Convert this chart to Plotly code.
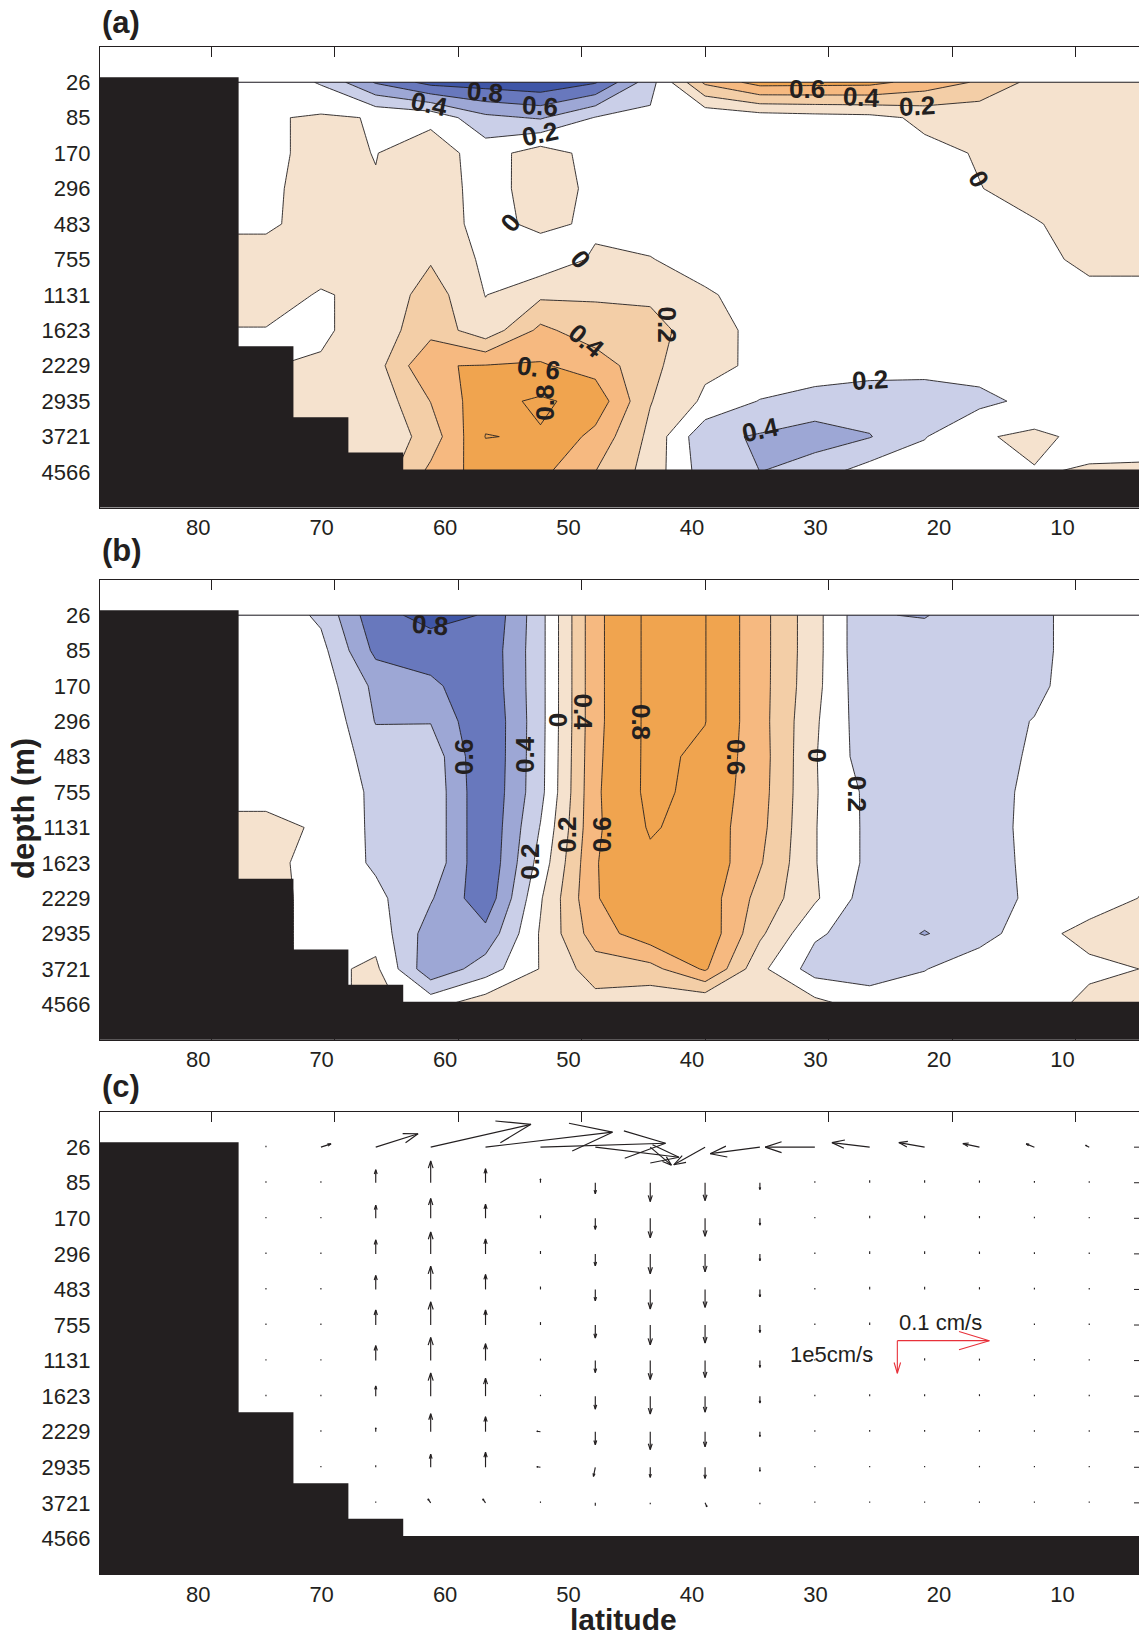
import math
import plotly.graph_objects as go

# ---------------- data ----------------
lat_deg = [88.89, 84.44, 80.00, 75.56, 71.11, 66.67, 62.22, 57.78, 53.33, 48.89,
           44.44, 40.00, 35.56, 31.11, 26.67, 22.22, 17.78, 13.33, 8.89, 4.44]
depth_m = ["26", "85", "170", "296", "483", "755", "1131", "1623", "2229", "2935", "3721", "4566"]
lat_ticks = [80, 70, 60, 50, 40, 30, 20, 10]
# top of the land/bottom mask per column (in level-index units)
land_top = [-0.14, -0.14, -0.14, 7.45, 9.45, 10.45, 10.93, 10.93, 10.93, 10.93,
            10.93, 10.93, 10.93, 10.93, 10.93, 10.93, 10.93, 10.93, 10.93, 10.93]

# panel (a) field, rows = levels 26..4566 m, columns = lat_deg
field_a = [
    [-0.05, -0.05, -0.05, -0.05, -0.22, -0.62, -0.87, -0.90, -0.95, -0.82, -0.28, 0.44, 0.68, 0.67, 0.66, 0.52, 0.374, 0.136, 0.10, 0.10],
    [-0.02, -0.02, -0.02, -0.02, 0.025, -0.01, -0.05, -0.35, -0.42, -0.19, -0.157, -0.175, -0.11, -0.08, -0.06, 0.04, 0.05, 0.08, 0.10, 0.10],
    [-0.04, -0.04, -0.04, -0.04, 0.05, -0.005, 0.10, -0.09, 0.10, -0.075, -0.10, -0.10, -0.10, -0.10, -0.08, -0.045, 0.012, 0.05, 0.08, 0.08],
    [-0.03, -0.03, -0.03, -0.03, 0.06, 0.01, 0.11, -0.08, 0.09, -0.04, -0.08, -0.10, -0.12, -0.12, -0.10, -0.08, -0.004, 0.05, 0.07, 0.07],
    [-0.02, -0.02, -0.02, -0.02, 0.05, 0.05, 0.11, -0.07, 0.05, -0.038, -0.05, -0.08, -0.10, -0.12, -0.10, -0.10, -0.06, -0.01, 0.05, 0.06],
    [0.05, 0.05, 0.05, 0.05, 0.05, 0.05, 0.18, -0.04, -0.14, 0.03, 0.005, -0.05, -0.08, -0.10, -0.10, -0.10, -0.08, -0.03, 0.025, 0.025],
    [0.05, 0.05, 0.05, 0.05, -0.01, 0.03, 0.30, -0.005, 0.16, 0.18, 0.15, 0.015, -0.047, -0.10, -0.10, -0.10, -0.10, -0.06, -0.028, -0.028],
    [-0.005, -0.005, -0.005, -0.005, -0.03, 0.09, 0.33, 0.07, 0.45, 0.28, 0.30, 0.05, -0.033, -0.10, -0.10, -0.12, -0.10, -0.07, -0.05, -0.05],
    [-0.005, -0.005, -0.005, -0.005, 0.02, 0.12, 0.59, 0.61, 0.62, 0.52, 0.25, 0.04, -0.027, -0.10, -0.128, -0.149, -0.125, -0.08, -0.06, -0.06],
    [-0.005, -0.005, -0.005, -0.005, 0.05, 0.06, 0.405, 0.74, 0.83, 0.73, 0.21, -0.035, -0.21, -0.27, -0.30, -0.28, -0.25, -0.15, -0.07, -0.06],
    [-0.005, -0.005, -0.005, -0.005, 0.05, 0.03, 0.29, 0.805, 0.785, 0.54, 0.15, -0.35, -0.42, -0.50, -0.41, -0.21, -0.02, 0.04, -0.05, -0.05],
    [-0.005, -0.005, -0.005, -0.005, 0.05, 0.05, 0.45, 0.70, 0.65, 0.40, 0.12, -0.30, -0.40, -0.28, -0.11, -0.10, -0.05, -0.01, 0.015, 0.02],
]

# panel (b) field
field_b = [
    [-0.05, -0.05, -0.05, -0.05, -0.24, -0.745, -0.855, -0.79, -0.27, 0.55, 0.85, 0.805, 0.48, 0.07, -0.39, -0.41, -0.30, -0.28, -0.05, -0.05],
    [-0.05, -0.05, -0.05, -0.05, -0.135, -0.65, -0.71, -0.75, -0.27, 0.55, 0.85, 0.805, 0.48, 0.07, -0.39, -0.30, -0.30, -0.28, -0.05, -0.05],
    [-0.04, -0.04, -0.04, -0.04, -0.09, -0.45, -0.553, -0.76, -0.27, 0.55, 0.85, 0.805, 0.48, 0.06, -0.37, -0.30, -0.30, -0.26, -0.05, -0.05],
    [-0.03, -0.03, -0.03, -0.03, -0.02, -0.41, -0.41, -0.79, -0.27, 0.55, 0.85, 0.805, 0.48, 0.03, -0.34, -0.30, -0.30, -0.19, -0.06, -0.05],
    [-0.03, -0.03, -0.03, -0.03, -0.03, -0.30, -0.27, -0.79, -0.265, 0.56, 0.85, 0.76, 0.49, 0.015, -0.32, -0.30, -0.30, -0.17, -0.07, -0.05],
    [-0.06, -0.06, -0.06, -0.06, -0.02, -0.25, -0.25, -0.78, -0.26, 0.57, 0.85, 0.74, 0.48, 0.016, -0.25, -0.30, -0.30, -0.144, -0.07, -0.05],
    [0.05, 0.05, 0.05, 0.05, -0.022, -0.245, -0.25, -0.78, -0.19, 0.567, 0.82, 0.72, 0.46, 0.01, -0.246, -0.30, -0.30, -0.136, -0.07, -0.05],
    [0.05, 0.05, 0.05, 0.05, -0.064, -0.23, -0.25, -0.78, -0.12, 0.59, 0.76, 0.75, 0.42, 0.01, -0.246, -0.30, -0.30, -0.146, -0.075, -0.03],
    [0.05, 0.05, 0.05, 0.05, -0.05, -0.15, -0.38, -0.74, -0.02, 0.585, 0.78, 0.715, 0.33, 0.03, -0.31, -0.30, -0.30, -0.157, -0.075, 0.01],
    [0.05, 0.05, 0.05, 0.05, -0.05, -0.074, -0.50, -0.54, 0.02, 0.50, 0.727, 0.75, 0.24, -0.17, -0.30, -0.41, -0.30, -0.05, 0.05, 0.10],
    [0.05, 0.05, 0.05, 0.05, -0.05, 0.04, -0.55, -0.30, 0.01, 0.30, 0.33, 0.63, 0.05, -0.29, -0.30, -0.21, -0.05, -0.05, -0.036, 0.004],
    [0.05, 0.05, 0.05, 0.05, -0.05, 0.04, -0.064, 0.12, 0.10, 0.12, 0.05, -0.01, 0.10, 0.07, -0.09, -0.05, -0.05, -0.085, 0.048, 0.06],
]

# panel (c) velocities: v = horizontal (cm/s, positive = rightward on the plot), w = vertical (1e-5 cm/s, positive up)
N = None
v_cms = [
    [N, N, N, 0.000, 0.011, 0.046, 0.109, 0.138, 0.136, 0.091, 0.023, -0.034, -0.054, -0.054, -0.041, -0.028, -0.018, -0.009, -0.004, -0.005],
    [N, N, N, 0, 0, 0, 0, 0, 0, 0, 0, 0, 0, 0, 0, 0, 0, 0, 0, 0],
    [N, N, N, 0, 0, 0, 0, 0, 0, 0, 0, 0, 0, 0, 0, 0, 0, 0, 0, 0],
    [N, N, N, 0, 0, 0, 0, 0, 0, 0, 0, 0, 0, 0, 0, 0, 0, 0, 0, 0],
    [N, N, N, 0, 0, 0, 0, 0, 0, 0, 0, 0, 0, 0, 0, 0, 0, 0, 0, 0],
    [N, N, N, 0, 0, 0, 0, 0, 0, 0, 0, 0, 0, 0, 0, 0, 0, 0, 0, 0],
    [N, N, N, 0, 0, 0, 0, 0, 0, 0, 0, 0, 0, 0, 0, 0, 0, 0, 0, 0],
    [N, N, N, 0, 0, 0, 0, 0, 0, 0, 0, 0, 0, 0, 0, 0, 0, 0, 0, 0],
    [N, N, N, N, 0, 0, 0, 0, -0.004, 0, 0, 0, 0, 0, 0, 0, 0, 0, 0, 0],
    [N, N, N, N, 0, 0, 0, 0, -0.004, -0.002, 0, 0, 0, 0, 0, 0, 0, 0, 0, 0],
    [N, N, N, N, N, 0, -0.003, -0.003, 0, 0, 0, 0.002, 0, 0, 0, 0, 0, 0, 0, 0],
]
w_1e5cms = [
    [N, N, N, 0.00, 0.10, 0.41, 0.70, 0.46, 0.12, -0.31, -0.55, -0.54, -0.20, 0.00, 0.14, 0.14, 0.11, 0.10, 0.06, 0.00],
    [N, N, N, 0.02, 0.03, 0.40, 0.67, 0.43, 0.12, -0.34, -0.58, -0.55, -0.21, 0.02, 0.08, 0.08, 0.07, 0.05, 0.03, 0.02],
    [N, N, N, 0.02, 0.03, 0.40, 0.61, 0.43, 0.09, -0.34, -0.60, -0.55, -0.21, 0.02, 0.08, 0.08, 0.07, 0.05, 0.03, 0.02],
    [N, N, N, 0.02, 0.03, 0.43, 0.67, 0.46, 0.09, -0.37, -0.61, -0.55, -0.21, 0.02, 0.08, 0.08, 0.07, 0.05, 0.03, 0.02],
    [N, N, N, 0.02, 0.03, 0.43, 0.71, 0.46, 0.09, -0.35, -0.60, -0.55, -0.23, 0.02, 0.08, 0.08, 0.07, 0.05, 0.03, 0.02],
    [N, N, N, 0.02, 0.03, 0.46, 0.71, 0.46, 0.09, -0.40, -0.61, -0.55, -0.23, 0.02, 0.08, 0.08, 0.07, 0.05, 0.03, 0.02],
    [N, N, N, 0.02, 0.03, 0.46, 0.71, 0.52, 0.06, -0.37, -0.58, -0.52, -0.21, 0.02, 0.07, 0.07, 0.06, 0.05, 0.03, 0.02],
    [N, N, N, 0.02, 0.03, 0.31, 0.71, 0.55, 0.03, -0.40, -0.55, -0.49, -0.21, 0.02, 0.06, 0.06, 0.06, 0.04, 0.03, 0.02],
    [N, N, N, N, 0.03, 0.12, 0.55, 0.46, 0.015, -0.40, -0.55, -0.46, -0.15, 0.02, 0.05, 0.05, 0.05, 0.04, 0.03, 0.02],
    [N, N, N, N, 0.02, 0.06, 0.40, 0.46, 0.015, -0.28, -0.31, -0.34, -0.12, 0.02, 0.04, 0.04, 0.04, 0.03, 0.02, 0.02],
    [N, N, N, N, N, 0.02, 0.12, 0.12, 0.01, -0.09, -0.03, -0.12, -0.03, 0.01, 0.02, 0.02, 0.02, 0.02, 0.01, 0.01],
]
ref_v_cms = 0.1      # reference arrow "0.1 cm/s"
ref_w_1e5 = -1.0     # reference vertical arrow (drawn downward)

# contour labels (text, lat, level, angle) - label placement only
labels_a = [("0.4", 62.33, 0.62, 12), ("0.8", 57.82, 0.27, 5), ("0.6", 53.37, 0.67, 4),
            ("0.2", 53.37, 1.47, -12), ("0", 55.8, 3.96, -50), ("0", 50.13, 5.0, 50),
            ("0.4", 49.59, 7.3, 40), ("0. 6", 53.53, 8.05, 8), ("0.8", 52.96, 9.04, -90),
            ("0.2", 43.11, 6.83, 90), ("0.6", 31.77, 0.2, 0), ("0.4", 27.31, 0.43, 3),
            ("0.2", 22.86, 0.67, -3), ("0", 17.87, 2.74, 60), ("0.2", 26.64, 8.39, -3),
            ("0.4", 35.55, 9.8, -12)]
labels_b = [("0.8", 62.28, 0.28, 5), ("0.6", 59.58, 4.0, -90), ("0.4", 54.58, 3.95, -90),
            ("0", 51.88, 2.96, -90), ("0.4", 49.86, 2.73, 90), ("0.8", 45.13, 3.01, 90),
            ("0.2", 54.18, 6.97, -90), ("0.2", 51.2, 6.21, -90), ("0.6", 48.37, 6.21, -90),
            ("0.6", 37.44, 4.0, 90), ("0", 30.96, 3.95, 90), ("0.2", 27.72, 5.04, 90)]

# ---------------- style / layout ----------------
INK = "#231F20"
RED = "#E8313A"
FONT = "Liberation Sans, Arial, Helvetica, sans-serif"
W, H = 1139, 1637
X_LEFT_PX, X_RIGHT_PX = 100.0, 1139.0
LAT_RANGE = [89.0, 4.86]
LEV_RANGE = [12, -1]
PANEL_PX = [(46.8, 507.5), (579.8, 1039.7), (1111.6, 1574.0)]
PX_DEG = (X_RIGHT_PX - X_LEFT_PX) / (LAT_RANGE[0] - LAT_RANGE[1])
PX_LEV_C = (PANEL_PX[2][1] - PANEL_PX[2][0]) / (LEV_RANGE[0] - LEV_RANGE[1])
PX_PER_V = 92.0 / ref_v_cms
PX_PER_W = 32.6

fill_colors = ["#34499C", "#3F56A7", "#6878BD", "#9DA7D5", "#CACFE8", "#FFFFFF",
               "#F5E2CE", "#F3CEA7", "#F6B980", "#F0A44F", "#F0A44F", "#F0A44F"]
steps = []
n = len(fill_colors)
for i, c in enumerate(fill_colors):
    lo = max(0.0, (i - 0.5) / (n - 1))
    hi = min(1.0, (i + 0.5) / (n - 1))
    steps.append([lo, c])
    steps.append([hi, c])

fig = go.Figure()


def contour_trace(z, xa, ya):
    xs = lat_deg[::-1]
    zs = [row[::-1] for row in z]
    return go.Contour(
        x=xs, y=list(range(len(depth_m))), z=zs, xaxis=xa, yaxis=ya,
        autocontour=False,
        contours=dict(start=-1.0, end=1.0, size=0.2, coloring="fill", showlines=True),
        colorscale=steps, showscale=False,
        line=dict(color=INK, width=0.9, smoothing=0),
        hoverinfo="skip")


fig.add_trace(contour_trace(field_a, "x", "y"))
fig.add_trace(contour_trace(field_b, "x2", "y2"))


def arrow(lat0, lev0, dx, dy, alpha=0.33, beta=0.33, min_len=1.4):
    """dx, dy in screen px (right, down)."""
    L = math.hypot(dx, dy)
    if L < min_len:
        if L == 0:
            dx, dy = 0.0, -min_len
        else:
            dx, dy = dx / L * min_len, dy / L * min_len
    out = [(0.0, 0.0), (dx, dy), None]
    if L >= 3.0:
        b1 = (dx - alpha * (dx + beta * dy), dy - alpha * (dy - beta * dx))
        b2 = (dx - alpha * (dx - beta * dy), dy - alpha * (dy + beta * dx))
        out += [b1, (dx, dy), b2, None]
    xs, ys = [], []
    for p in out:
        if p is None:
            xs.append(None); ys.append(None)
        else:
            xs.append(lat0 - p[0] / PX_DEG)
            ys.append(lev0 + p[1] / PX_LEV_C)
    return xs, ys


qx, qy = [], []
for r in range(len(v_cms)):
    for k in range(len(lat_deg)):
        v = v_cms[r][k]
        w = w_1e5cms[r][k]
        if v is None or w is None:
            continue
        xs, ys = arrow(lat_deg[k], r, v * PX_PER_V, -w * PX_PER_W)
        qx += xs; qy += ys
fig.add_trace(go.Scatter(x=qx, y=qy, mode="lines", xaxis="x3", yaxis="y3",
                         line=dict(color=INK, width=1.15), hoverinfo="skip"))

# reference arrows
ref_lat, ref_lev = 24.43, 5.44
rx, ry = [], []
for dx, dy in [(ref_v_cms * PX_PER_V, 0.0), (0.0, -ref_w_1e5 * PX_PER_W)]:
    xs, ys = arrow(ref_lat, ref_lev, dx, dy, beta=0.3)
    rx += xs; ry += ys
fig.add_trace(go.Scatter(x=rx, y=ry, mode="lines", xaxis="x3", yaxis="y3",
                         line=dict(color=RED, width=1.1), hoverinfo="skip"))

# ---------------- axes ----------------
def dom(top, bot):
    return [1 - bot / H, 1 - top / H]

tickfont = dict(family=FONT, size=22, color=INK)
layout = dict(width=W, height=H, margin=dict(l=0, r=0, t=0, b=0),
              paper_bgcolor="white", plot_bgcolor="white", showlegend=False)
names = [("xaxis", "yaxis", "y", "x"), ("xaxis2", "yaxis2", "y2", "x2"), ("xaxis3", "yaxis3", "y3", "x3")]
for i, (xa, ya, yref, xref) in enumerate(names):
    top, bot = PANEL_PX[i]
    layout[xa] = dict(domain=[X_LEFT_PX / W, X_RIGHT_PX / W], range=LAT_RANGE, anchor=yref,
                      tickmode="array", tickvals=lat_ticks, ticktext=[str(t) for t in lat_ticks],
                      ticks="inside", ticklen=10, tickwidth=1, tickcolor=INK,
                      showline=True, linecolor=INK, linewidth=1.2, mirror="ticks",
                      showgrid=False, zeroline=False, tickfont=tickfont, ticklabelshift=13)
    layout[ya] = dict(domain=dom(top, bot), range=LEV_RANGE, anchor=xref,
                      tickmode="array", tickvals=list(range(len(depth_m))), ticktext=depth_m,
                      ticks="", showline=True, linecolor=INK, linewidth=1.2, mirror=False,
                      showgrid=False, zeroline=False, tickfont=tickfont, ticklabelstandoff=4)
fig.update_layout(**layout)

# ---------------- shapes ----------------
shapes = []
half = (lat_deg[0] - lat_deg[1]) / 2.0
# land / bottom mask as one staircase polygon (no seams between columns)
x_l = LAT_RANGE[0] + 0.5
x_r = LAT_RANGE[1] - 0.5
y_b = LEV_RANGE[0] + 0.1
pts = [(x_l, y_b), (x_l, land_top[0])]
for k in range(len(land_top)):
    xe = lat_deg[k] - half if k < len(land_top) - 1 else x_r
    pts.append((xe, land_top[k]))
    if k < len(land_top) - 1 and land_top[k + 1] != land_top[k]:
        pts.append((xe, land_top[k + 1]))
pts.append((x_r, y_b))
land_path = "M " + " L ".join("%.4f,%.4f" % p for p in pts) + " Z"

for i, (xa, ya, yref, xref) in enumerate(names):
    if i < 2:
        shapes.append(dict(type="line", xref=xref, yref=yref, x0=lat_deg[0], x1=LAT_RANGE[1],
                           y0=0, y1=0, line=dict(color=INK, width=1), layer="above"))
    shapes.append(dict(type="path", xref=xref, yref=yref, path=land_path,
                       fillcolor=INK, line=dict(width=0), layer="above"))
# right-side inward y ticks of panel (c)
for lv in range(len(depth_m)):
    shapes.append(dict(type="line", xref="x3", yref="y3", x0=LAT_RANGE[1] + 5.0 / PX_DEG,
                       x1=LAT_RANGE[1], y0=lv, y1=lv, line=dict(color=INK, width=1), layer="above"))
fig.update_layout(shapes=shapes)

# ---------------- annotations ----------------
ann = []
for (t, la, lv, ang) in labels_a:
    ann.append(dict(x=la, y=lv, xref="x", yref="y", text="<b>%s</b>" % t, textangle=ang,
                    showarrow=False, font=dict(family=FONT, size=26, color=INK)))
for (t, la, lv, ang) in labels_b:
    ann.append(dict(x=la, y=lv, xref="x2", yref="y2", text="<b>%s</b>" % t, textangle=ang,
                    showarrow=False, font=dict(family=FONT, size=26, color=INK)))
for txt, ypx in [("(a)", 23), ("(b)", 550), ("(c)", 1086)]:
    ann.append(dict(x=X_LEFT_PX / W, y=1 - ypx / H, xref="paper", yref="paper", text="<b>%s</b>" % txt,
                    showarrow=False, xanchor="left", yanchor="middle",
                    font=dict(family=FONT, size=31, color=INK)))
ann.append(dict(x=23 / W, y=1 - 809 / H, xref="paper", yref="paper", text="<b>depth (m)</b>",
                textangle=-90, showarrow=False, xanchor="center", yanchor="middle",
                font=dict(family=FONT, size=31, color=INK)))
ann.append(dict(x=623 / W, y=0.0, xref="paper", yref="paper", text="<b>latitude</b>",
                showarrow=False, xanchor="center", yanchor="bottom", borderpad=0,
                font=dict(family=FONT, size=30, color=INK)))
ann.append(dict(x=20.93, y=4.94, xref="x3", yref="y3", text="0.1 cm/s", showarrow=False,
                font=dict(family=FONT, size=22, color=INK)))
ann.append(dict(x=29.76, y=5.83, xref="x3", yref="y3", text="1e5cm/s", showarrow=False,
                font=dict(family=FONT, size=22, color=INK)))
fig.update_layout(annotations=ann)

fig.write_html("out.html")
